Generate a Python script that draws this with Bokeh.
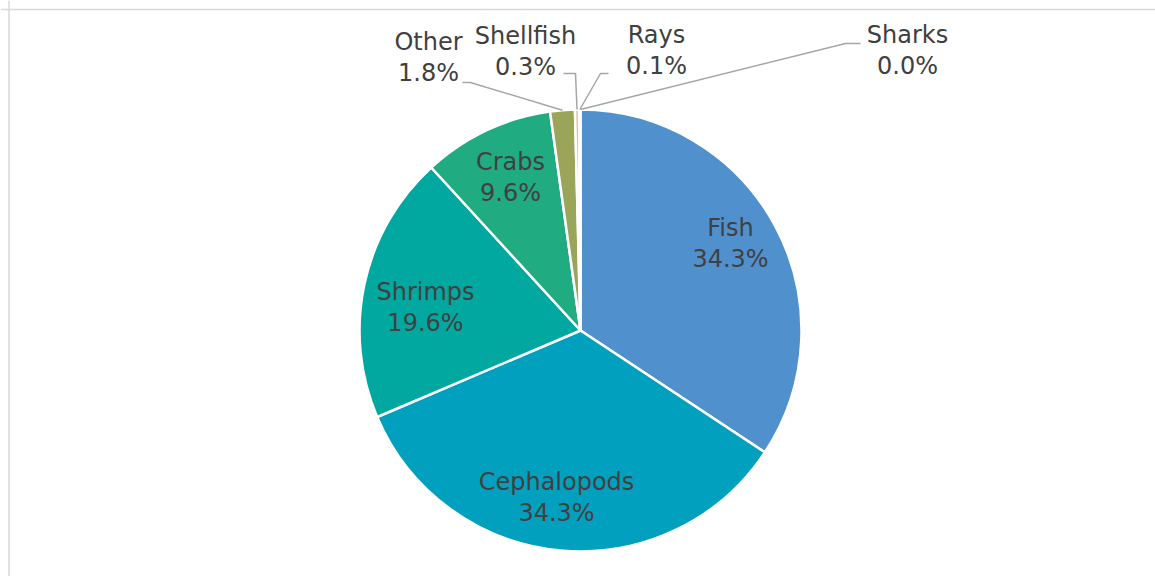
import math
from bokeh.plotting import figure
from bokeh.models import ColumnDataSource, Range1d, Span
from bokeh.core.properties import value
from bokeh.embed import file_html
from bokeh.resources import INLINE

# ---- data ----
categories = ["Fish", "Cephalopods", "Shrimps", "Crabs", "Other", "Shellfish", "Rays", "Sharks"]
shares = [34.3, 34.3, 19.6, 9.6, 1.8, 0.3, 0.1, 0.0]
colors = ["#5090CD", "#00A0BE", "#00A8A0", "#21AB81", "#9AA55A", "#D8C79C", "#BBD3E6", "#7FB2DB"]

# ---- layout constants (pixels in the page) ----
W, H = 1155, 576
CX_PX, CY_PX, R = 580, 330, 221
FRAME_X, FRAME_Y = 8.5, 9
inside = {
    "Fish": (730, 243),
    "Cephalopods": (556, 497),
    "Shrimps": (425, 307),
    "Crabs": (510, 177),
}
# outside labels: label centre and leader elbow/end (page px)
outside = {
    "Other":     dict(label=(428, 57), elbow=(470, 82), end=(462, 82)),
    "Shellfish": dict(label=(525, 51), elbow=(575, 73), end=(563, 73)),
    "Rays":      dict(label=(656, 50), elbow=(600, 73), end=(608, 73)),
    "Sharks":    dict(label=(907, 50), elbow=(845, 43), end=(860, 43)),
}

def dx(px):
    return px

def dy(py):
    return H - py

cx, cy = dx(CX_PX), dy(CY_PX)

total = sum(shares)
starts, ends, mids = [], [], []
cum = 0.0
for s in shares:
    a0 = math.pi / 2 - 2 * math.pi * cum / total
    cum += s
    a1 = math.pi / 2 - 2 * math.pi * cum / total
    starts.append(a0)
    ends.append(a1)
    mids.append((a0 + a1) / 2)

keep = [i for i, s in enumerate(shares) if s > 0]
src = ColumnDataSource(dict(cat=[categories[i] for i in keep],
                            share=[shares[i] for i in keep],
                            color=[colors[i] for i in keep],
                            start=[starts[i] for i in keep],
                            end=[ends[i] for i in keep]))

p = figure(width=W, height=H, output_backend="svg", toolbar_location=None,
           x_axis_type=None, y_axis_type=None,
           x_range=Range1d(0, W), y_range=Range1d(0, H),
           min_border=0)
p.outline_line_color = None
p.grid.visible = False
p.background_fill_color = "white"

# chart frame (top and left edges visible in the reference)
p.add_layout(Span(location=dy(FRAME_Y), dimension="width", line_color="#D9D9D9", line_width=1.5))
p.add_layout(Span(location=dx(FRAME_X), dimension="height", line_color="#D9D9D9", line_width=1.5))

p.wedge(x=cx, y=cy, radius=R, start_angle="start", end_angle="end",
        direction="clock", fill_color="color", line_color="white",
        line_width=2.5, source=src)

font = value("DejaVu Sans")
FS = "24px"
TXT = "#404040"
LH = 1.08

# inside labels
in_x, in_y, in_t = [], [], []
for cat, s in zip(categories, shares):
    if cat not in inside:
        continue
    lx, ly = inside[cat]
    in_x.append(dx(lx))
    in_y.append(dy(ly))
    in_t.append(f"{cat}\n{s:.1f}%")
p.text(x=in_x, y=in_y, text=in_t, text_align="center", text_baseline="middle",
       text_font=font, text_font_size=FS, text_color=TXT, text_line_height=LH)

# outside labels with leader lines
for cat, s, m in zip(categories, shares, mids):
    if cat not in outside:
        continue
    o = outside[cat]
    ex, ey = cx + R * math.cos(m), cy + R * math.sin(m)
    p.line(x=[ex, dx(o["elbow"][0]), dx(o["end"][0])],
           y=[ey, dy(o["elbow"][1]), dy(o["end"][1])],
           line_color="#A6A6A6", line_width=1.5)
    p.text(x=[dx(o["label"][0])], y=[dy(o["label"][1])], text=[f"{cat}\n{s:.1f}%"],
           text_align="center", text_baseline="middle",
           text_font=font, text_font_size=FS, text_color=TXT, text_line_height=LH)

open("out.html", "w").write(file_html(p, INLINE))
